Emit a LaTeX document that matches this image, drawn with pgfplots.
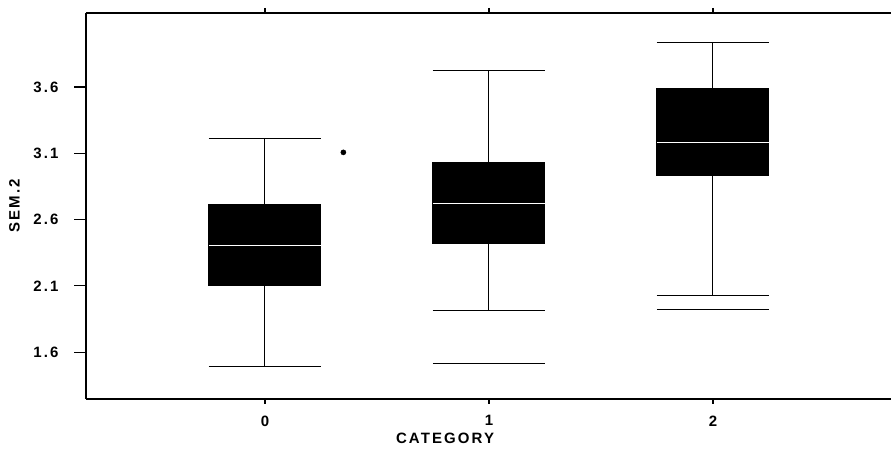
\documentclass[border=0pt]{standalone}
\usepackage{fontspec}
\setmainfont{Liberation Sans}
\newfontfamily\spaced[LetterSpace=14]{Liberation Sans}
\usepackage{pgfplots}
\usepgfplotslibrary{statistics}
\pgfplotsset{compat=1.18}
\newcommand{\lab}{\fontsize{15}{17}\selectfont\spaced\bfseries}
\begin{document}
\begin{tikzpicture}
\useasboundingbox (-86pt,-50pt) rectangle (805pt,399pt);
\begin{axis}[
  at={(0pt,0pt)}, anchor=south west, scale only axis,
  width=805pt, height=386pt,
  xmin=-0.799, xmax=2.795, ymin=1.247, ymax=4.158,
  axis x line*=box, axis y line*=left,
  axis line style={line width=1.5pt},
  tick align=outside, major tick length=5pt,
  xtick pos=both, ytick pos=left,
  tick style={line width=1.2pt, black},
  xtick={0,1,2}, xticklabels={0,1,2},
  ytick={1.6,2.1,2.6,3.1,3.6}, yticklabels={1.6,2.1,2.6,3.1,3.6},
  xticklabel style={font=\lab, yshift=-8pt},
  yticklabel style={font=\lab, xshift=-19pt},
  xlabel={CATEGORY}, ylabel={SEM.2},
  xlabel style={font=\lab, at={(axis description cs:0.446,-0.101)}, anchor=center},
  ylabel style={font=\lab, at={(axis description cs:-0.0888,0.5)}, anchor=center},
  boxplot/draw direction=y,
  boxplot/every median/.style={draw=white, line width=1pt},
  boxplot/every whisker/.style={draw=black, line width=1pt},
  clip=false,
]
\addplot[fill=black, draw=black, line width=1pt,
  boxplot prepared={draw position=0, lower whisker=1.493, lower quartile=2.101,
  median=2.403, upper quartile=2.712, upper whisker=3.215,
  box extend=0.5, whisker extend=0.5}] coordinates {};
\addplot[fill=black, draw=black, line width=1pt,
  boxplot prepared={draw position=1, lower whisker=1.913, lower quartile=2.418,
  median=2.722, upper quartile=3.027, upper whisker=3.725,
  box extend=0.5, whisker extend=0.5}] coordinates {};
\addplot[fill=black, draw=black, line width=1pt,
  boxplot prepared={draw position=2, lower whisker=2.026, lower quartile=2.931,
  median=3.182, upper quartile=3.592, upper whisker=3.936,
  box extend=0.5, whisker extend=0.5}] coordinates {};
% extra low lines
\addplot[black, line width=1pt] coordinates {(0.75,1.511) (1.25,1.511)};
\addplot[black, line width=1pt] coordinates {(1.75,1.921) (2.25,1.921)};
% outlier dot
\addplot[only marks, mark=*, mark size=2.6pt, black] coordinates {(0.35,3.107)};
% longer y ticks
\draw[line width=1.2pt] (axis cs:-0.799,1.6) -- ++(-12pt,0pt);
\draw[line width=1.2pt] (axis cs:-0.799,2.1) -- ++(-12pt,0pt);
\draw[line width=1.2pt] (axis cs:-0.799,2.6) -- ++(-12pt,0pt);
\draw[line width=1.2pt] (axis cs:-0.799,3.1) -- ++(-12pt,0pt);
\draw[line width=1.2pt] (axis cs:-0.799,3.6) -- ++(-12pt,0pt);
\end{axis}
\end{tikzpicture}
\end{document}
